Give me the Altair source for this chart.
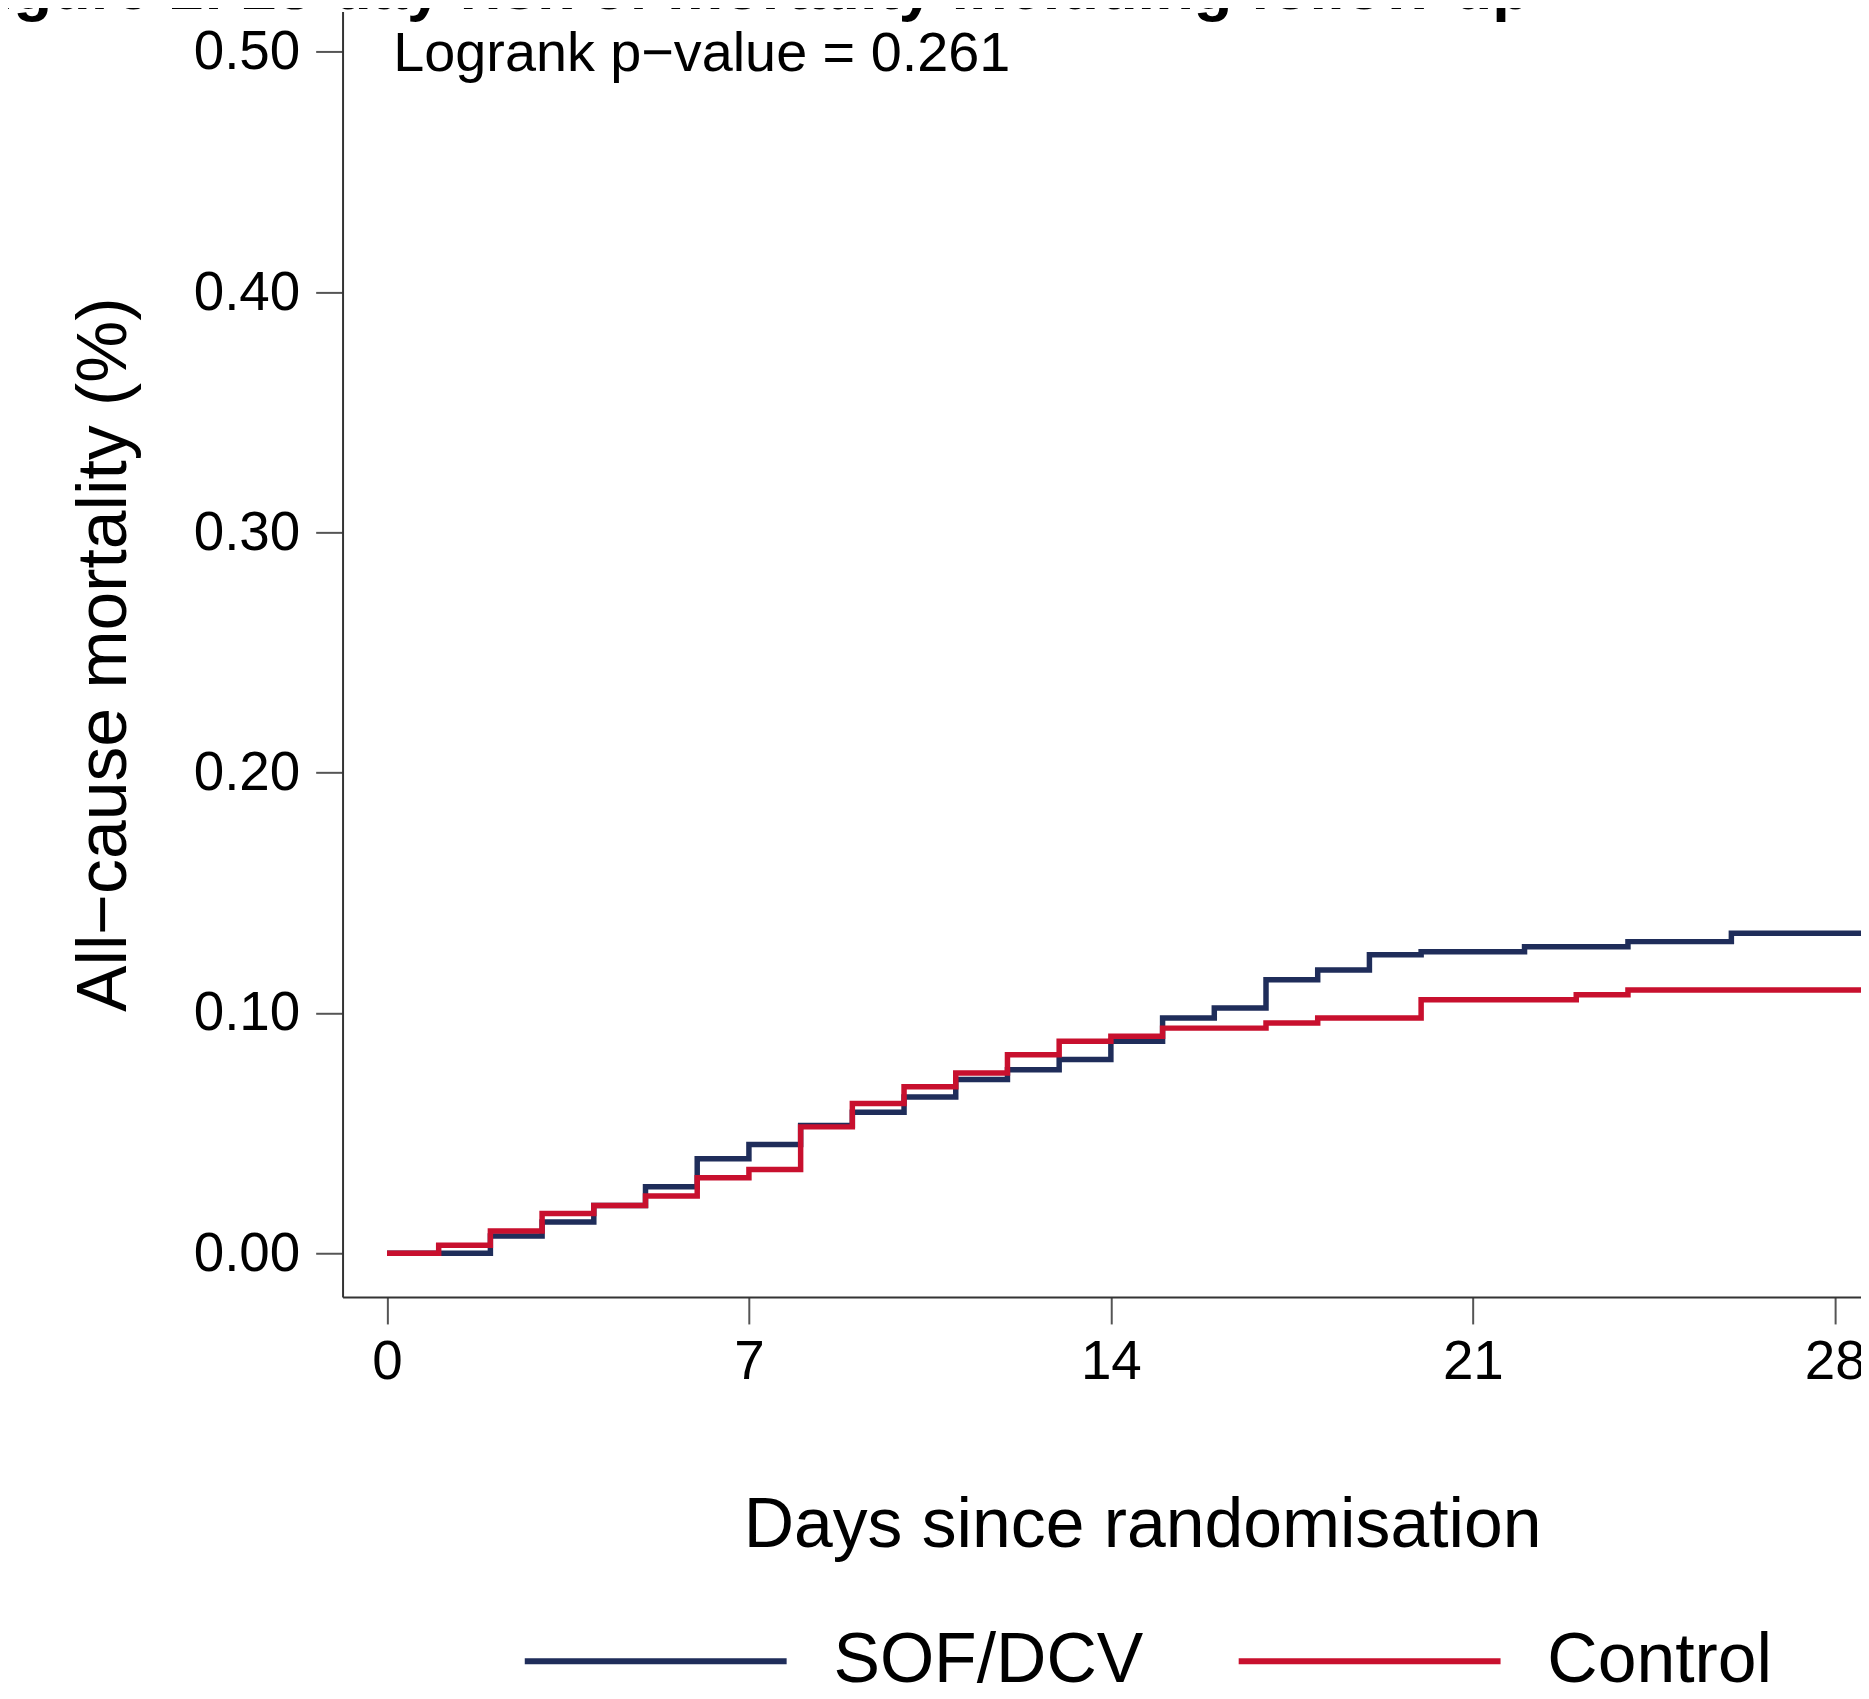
import altair as alt
import pandas as pd

# ---- data ----
series_names = ["SOF/DCV", "Control"]
series_colors = ["#1f2d5a", "#c8102e"]

sof_days = [0, 2, 3, 4, 5, 6, 7, 8, 9, 10, 11, 12, 13, 14, 15, 16, 17, 18, 19, 20, 22, 24, 26, 29]
sof_values = [0.0, 0.0072, 0.0130, 0.0199, 0.0277, 0.0393, 0.0453, 0.0532, 0.0587, 0.0650,
              0.0723, 0.0764, 0.0806, 0.0882, 0.0979, 0.1021, 0.1138, 0.1179, 0.1242, 0.1255,
              0.1276, 0.1297, 0.1332, 0.1332]

ctrl_days = [0, 1, 2, 3, 4, 5, 6, 7, 8, 9, 10, 11, 12, 13, 14, 15, 17, 18, 20, 23, 24, 29]
ctrl_values = [0.0, 0.0033, 0.0093, 0.0165, 0.0199, 0.0238, 0.0314, 0.0349, 0.0526, 0.0623,
               0.0693, 0.0750, 0.0826, 0.0882, 0.0903, 0.0937, 0.0958, 0.0979, 0.1055, 0.1076,
               0.1096, 0.1096]

x_ticks = [0, 7, 14, 21, 28]
y_ticks = [0.0, 0.1, 0.2, 0.3, 0.4, 0.5]

title_text = "Figure 1: 28-day risk of mortality including follow-up"
logrank_text = "Logrank p\u2212value = 0.261"
x_title = "Days since randomisation"
y_title = "All\u2212cause mortality (%)"

FONT = "Liberation Sans"
AXIS_COLOR = "#333333"

sof_df = pd.DataFrame({"day": sof_days, "risk": sof_values, "group": series_names[0]})
ctrl_df = pd.DataFrame({"day": ctrl_days, "risk": ctrl_values, "group": series_names[1]})

x_scale = alt.Scale(domain=[-0.859, 28.507], nice=False, zero=False)
y_scale = alt.Scale(domain=[-0.01823, 0.51678], nice=False, zero=False)
color_scale = alt.Scale(domain=series_names, range=series_colors)

x_axis = alt.Axis(values=x_ticks, title=x_title, grid=False, labelFontSize=55,
                  labelPadding=12, tickSize=27, tickWidth=2, tickColor="#555555",
                  domainColor=AXIS_COLOR, domainWidth=2, titleFontSize=70,
                  titleFontWeight="normal", titlePadding=103, titleX=803,
                  titleAlign="center", labelColor="black", titleColor="black",
                  labelFont=FONT, titleFont=FONT)
y_axis = alt.Axis(values=y_ticks, format=".2f", title=y_title, grid=False,
                  labelFontSize=55, labelPadding=16, tickSize=27, tickWidth=2,
                  tickColor="#555555", domainColor=AXIS_COLOR, domainWidth=2,
                  titleFontSize=70, titleFontWeight="normal", titlePadding=53,
                  labelColor="black", titleColor="black", labelFont=FONT, titleFont=FONT)

legend = alt.Legend(orient="none", legendX=180, legendY=1522, direction="horizontal",
                    title=None, symbolType="stroke", symbolSize=69169, symbolStrokeWidth=6,
                    labelFontSize=70, labelFont=FONT, labelColor="black", labelOffset=44,
                    columnPadding=83, padding=0, labelLimit=0)

sof_line = alt.Chart(sof_df).mark_line(interpolate="step-after", strokeWidth=5.5, clip=True).encode(
    x=alt.X("day:Q", scale=x_scale, axis=x_axis),
    y=alt.Y("risk:Q", scale=y_scale, axis=y_axis),
    color=alt.Color("group:N", scale=color_scale, legend=legend, sort=series_names),
)
ctrl_line = alt.Chart(ctrl_df).mark_line(interpolate="step-after", strokeWidth=5.5, clip=True).encode(
    x=alt.X("day:Q", scale=x_scale),
    y=alt.Y("risk:Q", scale=y_scale),
    color=alt.Color("group:N", scale=color_scale, sort=series_names),
)

logrank = alt.Chart(pd.DataFrame({"t": [logrank_text]})).mark_text(
    align="left", baseline="alphabetic", fontSize=56, font=FONT, color="black"
).encode(x=alt.value(51), y=alt.value(60), text="t:N")

title = alt.Chart(pd.DataFrame({"t": [title_text]})).mark_text(
    align="left", baseline="alphabetic", fontSize=63.5, font=FONT, fontWeight="bold", color="black"
).encode(x=alt.value(-387), y=alt.value(-3), text="t:N")

chart = alt.layer(sof_line, ctrl_line, logrank, title).properties(
    width=1525, height=1291,
    autosize=alt.AutoSizeParams(type="none"),
    padding={"left": 336, "top": 0, "right": 0, "bottom": 387},
    background="white",
    view=alt.ViewBackground(stroke="transparent", strokeWidth=0),
).configure_view(strokeWidth=0, stroke="transparent").configure(font=FONT)

chart.save("out.html", embed_options={"renderer": "svg", "actions": False})
